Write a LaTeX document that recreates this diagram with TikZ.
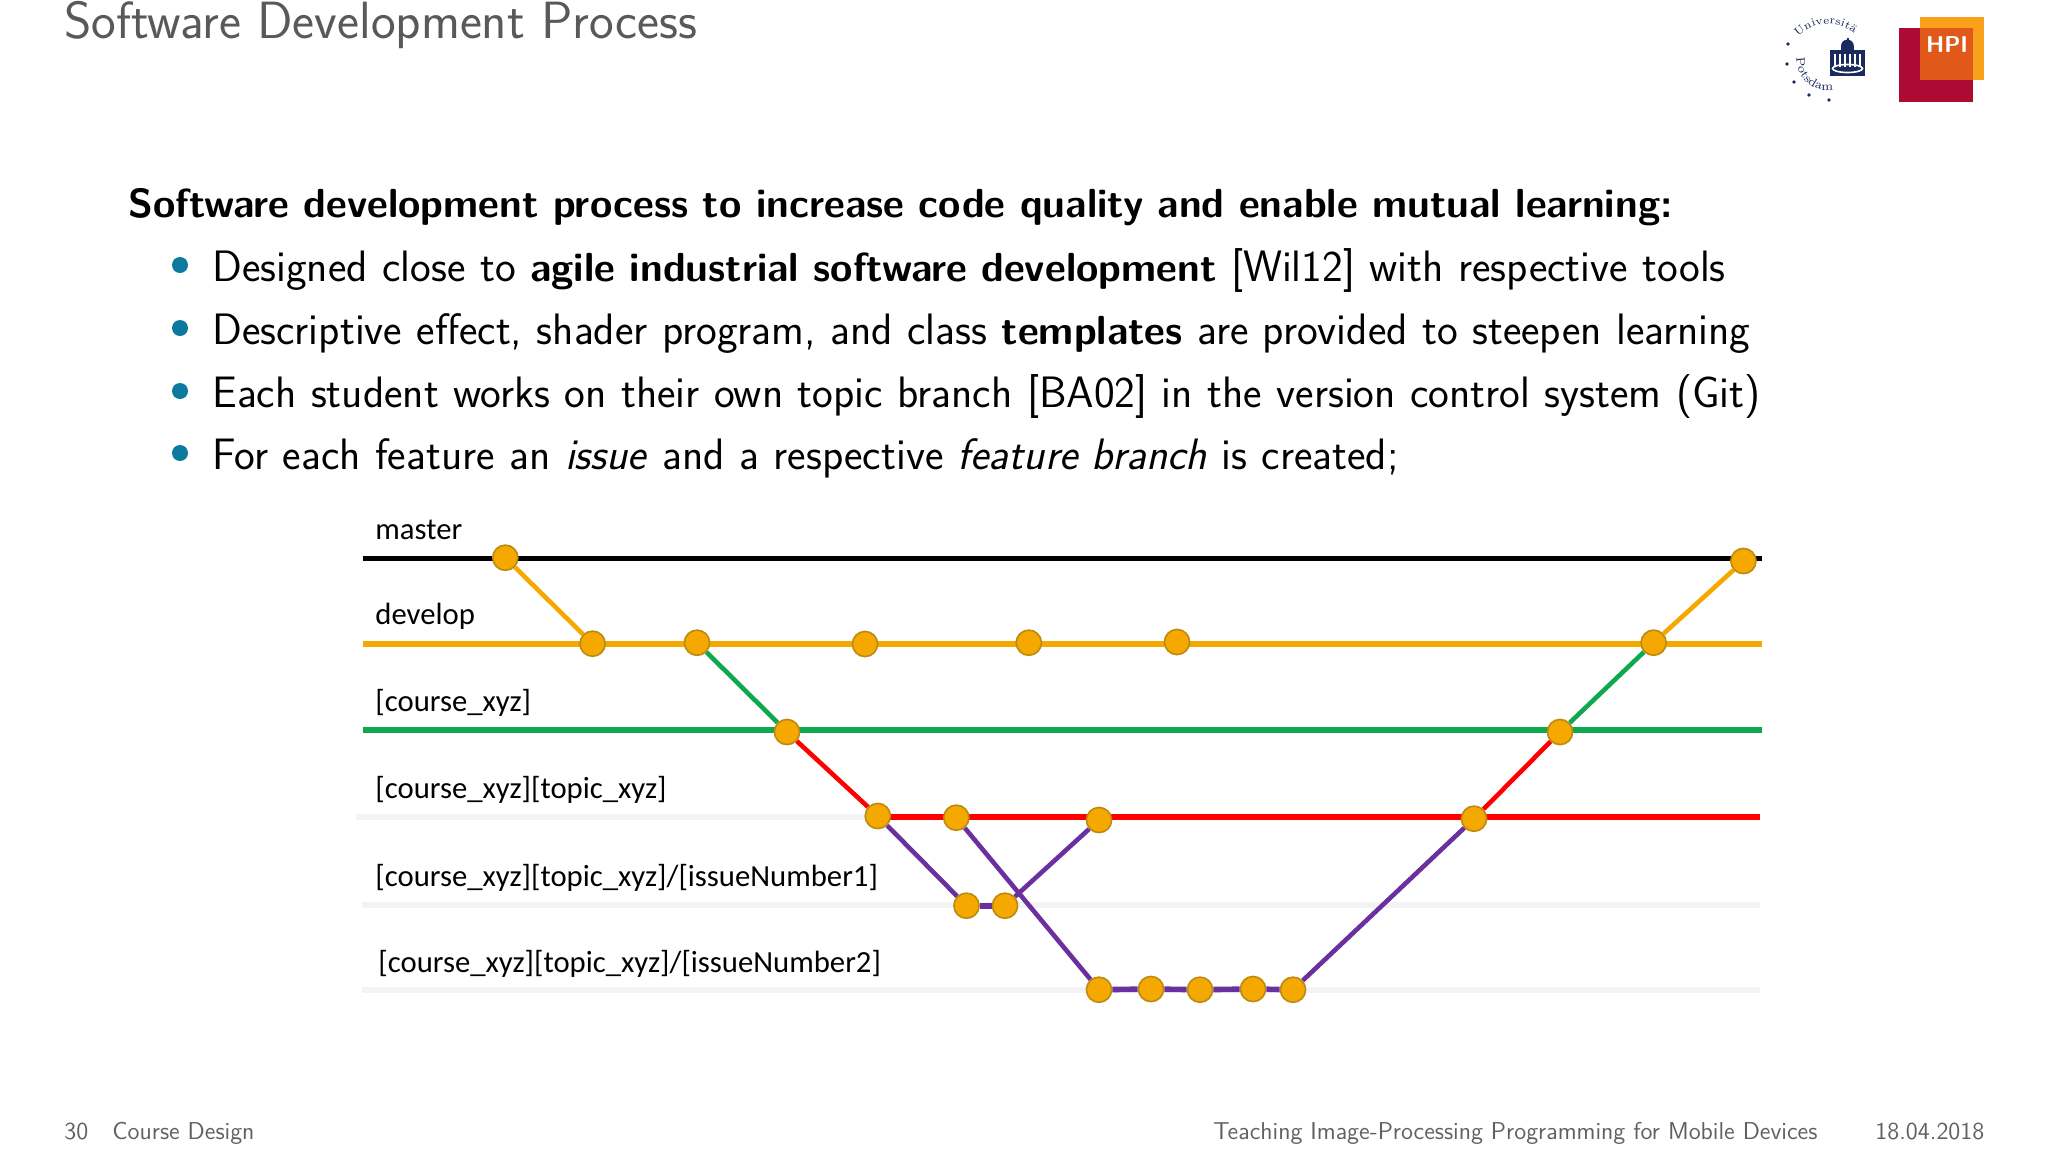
\documentclass[tikz,border=0pt]{standalone}
\usepackage{fontspec}
\newfontfamily\labelfont{Carlito}
\usetikzlibrary{decorations.text}
\definecolor{gitorange}{HTML}{F5A800}
\definecolor{gitborder}{HTML}{BC8A10}
\definecolor{gitgreen}{HTML}{0FA84F}
\definecolor{gitpurple}{HTML}{6A30A0}
\definecolor{ghost}{HTML}{F3F3F6}
\definecolor{teal}{HTML}{0B7A9E}
\definecolor{navy}{HTML}{1A2A5E}
\definecolor{hpired}{HTML}{AD0A33}
\definecolor{hpiorange}{HTML}{F9A11B}
\definecolor{hpimix}{HTML}{E0591A}
\newcommand\widesp[1]{\spaceskip=#1\relax}
\newcommand\boldrun[1]{{\fontsize{20.3}{24}\selectfont\bfseries #1}}
\tikzset{
  x=0.5pt,y=-0.5pt,
  commit/.style={circle,draw=gitborder,line width=0.8pt,fill=gitorange,minimum size=12.6pt,inner sep=0pt},
  branch/.style={line width=2.8pt},
  link/.style={line width=2.3pt},
  lab/.style={anchor=base west,inner sep=0pt,font=\labelfont\fontsize{15.35}{18}\selectfont},
  body/.style={anchor=base west,inner sep=0pt,font=\sffamily\fontsize{22}{24}\selectfont\widesp{7.25pt}},
  foot/.style={anchor=base west,inner sep=0pt,text=black!62,font=\sffamily\fontsize{12.2}{14}\selectfont},
  bul/.style={circle,fill=teal,minimum size=8pt,inner sep=0pt},
}
\begin{document}
\begin{tikzpicture}
\useasboundingbox (0,0) rectangle (2048,1152);
\fill[white] (0,0) rectangle (2048,1152);
% title
\node[anchor=base west,inner sep=0pt,text=black!65,font=\sffamily\fontsize{26.2}{28}\selectfont\widesp{8.2pt}] (title) at (64,38.5) {Software Development Process};
% logos
\fill[hpired] (1899.3,27.7) rectangle (1973,101.7);
\fill[hpiorange] (1920,16.7) rectangle (1983.7,80);
\fill[hpimix] (1920,27.7) rectangle (1973,80);
\node[text=white,font=\sffamily\bfseries\fontsize{11.5}{15}\selectfont,inner sep=0pt] (hpi) at (1947,45) {HPI};
\path[postaction={decorate,decoration={text along path,text align=center,text={|\fontsize{5.6}{6}\selectfont\color{navy}|Universität}}}] (1802,33) arc[start angle=129,end angle=50,radius=20.5pt];
\path[postaction={decorate,decoration={text along path,text align=center,text={|\fontsize{6}{6}\selectfont\color{navy}|Potsdam}}}] (1796.7,60) arc[start angle=180,end angle=278,radius=15pt];
\foreach \p in {(1788,44),(1787,64),(1794,82),(1809,95),(1829,100)} \fill[navy] \p circle (0.9pt);
\fill[navy] (1830,50) rectangle (1865,76);
\fill[navy] (1841,50) -- (1841,46) arc[start angle=180,end angle=0,radius=3.2pt] -- (1854,50) -- cycle;
\fill[navy] (1846.5,38) rectangle (1848.5,41);
\foreach \i in {1834,1839,1844,1849,1854,1859} \fill[white] (\i,54) rectangle ++(2.4,13);
\draw[white,line width=0.8pt] (1847.5,68.5) ellipse[x radius=7.5pt,y radius=2pt];
% text
\node[body] (head) at (128,217.5) {\boldrun{Software development process to increase code quality and enable mutual learning:}};
\node[bul] (b1) at (180,265) {};
\node[bul] (b2) at (180,328) {};
\node[bul] (b3) at (180,391) {};
\node[bul] (b4) at (180,453) {};
\node[body] (l1) at (212,281) {Designed close to \boldrun{agile industrial software development} [Wil12] with respective tools};
\node[body] (l2) at (212,344) {Descriptive effect, shader program, and class \boldrun{templates} are provided to steepen learning};
\node[body] (l3) at (212,407) {Each student works on their own topic branch [BA02] in the version control system (Git)};
\node[body] (l4) at (212,469) {For each feature an \textit{issue} and a respective \textit{feature branch} is created;};
% rails
\coordinate (ml) at (362.5,558.3); \coordinate (mr) at (1762,558.3);
\coordinate (dl) at (362.5,644); \coordinate (dr) at (1762,644);
\coordinate (cl) at (362.5,730); \coordinate (cr) at (1762,730);
\coordinate (tgl) at (356,817); \coordinate (tl) at (877,817); \coordinate (tr) at (1760,817);
\coordinate (al) at (362,905); \coordinate (ar) at (1760,905);
\coordinate (bl) at (362,990); \coordinate (br) at (1760,990);
\draw[ghost,branch] (tgl) -- (tl);
\draw[ghost,branch] (al) -- (ar);
\draw[ghost,branch] (bl) -- (br);
\draw[black,branch] (ml) -- (mr);
\draw[gitorange,branch] (dl) -- (dr);
\draw[gitgreen,branch] (cl) -- (cr);
\draw[red,branch] (tl) -- (tr);
% commits
\node[commit] (m1) at (505.3,557.7) {};
\node[commit] (m2) at (1743.4,561) {};
\node[commit] (d1) at (592.6,643.7) {};
\node[commit] (d2) at (697,642.7) {};
\node[commit] (d3) at (865,644) {};
\node[commit] (d4) at (1028.8,642.7) {};
\node[commit] (d5) at (1177,642) {};
\node[commit] (d6) at (1653.6,642.7) {};
\node[commit] (c1) at (787,732) {};
\node[commit] (c2) at (1560,732) {};
\node[commit] (t1) at (877.8,816) {};
\node[commit] (t2) at (956.3,817.7) {};
\node[commit] (t3) at (1099,820) {};
\node[commit] (t4) at (1474,818.7) {};
\node[commit] (a1) at (966.5,905.7) {};
\node[commit] (a2) at (1005,905.7) {};
\node[commit] (b1c) at (1099,989.7) {};
\node[commit] (b2c) at (1151,989) {};
\node[commit] (b3c) at (1200,989.7) {};
\node[commit] (b4c) at (1253,989) {};
\node[commit] (b5c) at (1293,989.7) {};
\draw[gitorange,link] (m1) -- (d1);
\draw[gitorange,link] (d6) -- (m2);
\draw[gitgreen,link] (d2) -- (c1);
\draw[gitgreen,link] (c2) -- (d6);
\draw[red,link] (c1) -- (t1);
\draw[red,link] (t4) -- (c2);
\draw[gitpurple,link] (t1) -- (a1);
\draw[gitpurple,branch] (a1) -- (a2);
\draw[gitpurple,link] (a2) -- (t3);
\draw[gitpurple,link] (t2) -- (b1c);
\draw[gitpurple,branch] (b1c) -- (b2c);
\draw[gitpurple,branch] (b2c) -- (b3c);
\draw[gitpurple,branch] (b3c) -- (b4c);
\draw[gitpurple,branch] (b4c) -- (b5c);
\draw[gitpurple,link] (b5c) -- (t4);
% labels
\node[lab] (n1) at (375,539.5) {master};
\node[lab] (n2) at (375,624.5) {develop};
\node[lab] (n3) at (375,711) {[course\_xyz]};
\node[lab] (n4) at (375,798) {[course\_xyz][topic\_xyz]};
\node[lab] (n5) at (375,886) {[course\_xyz][topic\_xyz]/[issueNumber1]};
\node[lab] (n6) at (378,972) {[course\_xyz][topic\_xyz]/[issueNumber2]};
% footer
\node[foot] (f1) at (64,1139) {30};
\node[foot] (f2) at (112,1139) {Course Design};
\node[foot] (f3) at (1213,1139) {Teaching Image-Processing Programming for Mobile Devices};
\node[foot] (f4) at (1875,1139) {18.04.2018};
\end{tikzpicture}
\end{document}
